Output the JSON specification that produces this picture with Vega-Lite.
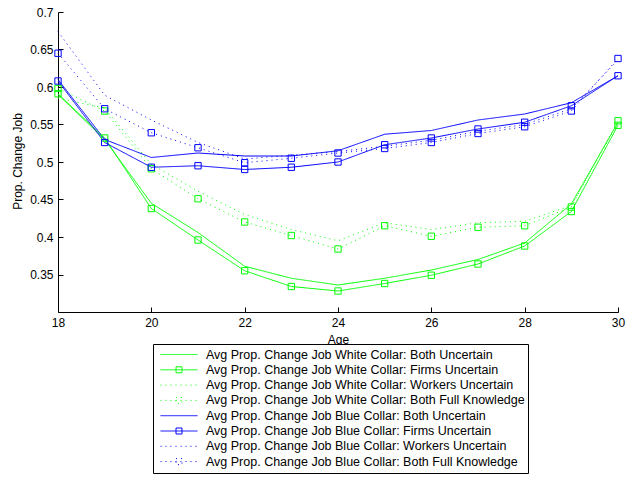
{
  "$schema": "https://vega.github.io/schema/vega-lite/v6.json",
  "width": 560,
  "height": 300,
  "autosize": {"type": "none"},
  "padding": {"left": 58, "top": 12, "right": 19, "bottom": 167},
  "background": "white",
  "config": {
    "view": {"stroke": null},
    "font": "Liberation Sans",
    "axis": {
      "domainColor": "black",
      "domainWidth": 1,
      "tickColor": "black",
      "tickWidth": 1,
      "tickSize": -5,
      "labelColor": "black",
      "titleColor": "black",
      "labelFont": "Liberation Sans",
      "titleFont": "Liberation Sans",
      "labelFontSize": 12,
      "titleFontSize": 12,
      "titleFontWeight": "normal",
      "grid": false,
      "labelFlush": false,
      "labelOverlap": false
    },
    "legend": {
      "orient": "none",
      "legendX": 95,
      "legendY": 332,
      "direction": "vertical",
      "columns": 1,
      "padding": 3,
      "strokeColor": "black",
      "fillColor": "white",
      "cornerRadius": 0,
      "clipHeight": 15,
      "rowPadding": 0.3,
      "symbolSize": 1369,
      "symbolStrokeWidth": 1,
      "symbolOffset": 4,
      "labelOffset": 8,
      "labelFont": "Liberation Sans",
      "labelFontSize": 12.5,
      "labelColor": "black",
      "labelLimit": 500
    }
  },
  "data": {
    "values": [
      {"series": "Avg Prop. Change Job White Collar: Both Uncertain", "age": 18, "value": 0.590},
      {"series": "Avg Prop. Change Job White Collar: Both Uncertain", "age": 19, "value": 0.530},
      {"series": "Avg Prop. Change Job White Collar: Both Uncertain", "age": 20, "value": 0.445},
      {"series": "Avg Prop. Change Job White Collar: Both Uncertain", "age": 21, "value": 0.406},
      {"series": "Avg Prop. Change Job White Collar: Both Uncertain", "age": 22, "value": 0.361},
      {"series": "Avg Prop. Change Job White Collar: Both Uncertain", "age": 23, "value": 0.345},
      {"series": "Avg Prop. Change Job White Collar: Both Uncertain", "age": 24, "value": 0.336},
      {"series": "Avg Prop. Change Job White Collar: Both Uncertain", "age": 25, "value": 0.345},
      {"series": "Avg Prop. Change Job White Collar: Both Uncertain", "age": 26, "value": 0.356},
      {"series": "Avg Prop. Change Job White Collar: Both Uncertain", "age": 27, "value": 0.370},
      {"series": "Avg Prop. Change Job White Collar: Both Uncertain", "age": 28, "value": 0.392},
      {"series": "Avg Prop. Change Job White Collar: Both Uncertain", "age": 29, "value": 0.444},
      {"series": "Avg Prop. Change Job White Collar: Both Uncertain", "age": 30, "value": 0.553},

      {"series": "Avg Prop. Change Job White Collar: Firms Uncertain", "age": 18, "value": 0.591},
      {"series": "Avg Prop. Change Job White Collar: Firms Uncertain", "age": 19, "value": 0.532},
      {"series": "Avg Prop. Change Job White Collar: Firms Uncertain", "age": 20, "value": 0.438},
      {"series": "Avg Prop. Change Job White Collar: Firms Uncertain", "age": 21, "value": 0.396},
      {"series": "Avg Prop. Change Job White Collar: Firms Uncertain", "age": 22, "value": 0.355},
      {"series": "Avg Prop. Change Job White Collar: Firms Uncertain", "age": 23, "value": 0.334},
      {"series": "Avg Prop. Change Job White Collar: Firms Uncertain", "age": 24, "value": 0.328},
      {"series": "Avg Prop. Change Job White Collar: Firms Uncertain", "age": 25, "value": 0.338},
      {"series": "Avg Prop. Change Job White Collar: Firms Uncertain", "age": 26, "value": 0.349},
      {"series": "Avg Prop. Change Job White Collar: Firms Uncertain", "age": 27, "value": 0.364},
      {"series": "Avg Prop. Change Job White Collar: Firms Uncertain", "age": 28, "value": 0.388},
      {"series": "Avg Prop. Change Job White Collar: Firms Uncertain", "age": 29, "value": 0.434},
      {"series": "Avg Prop. Change Job White Collar: Firms Uncertain", "age": 30, "value": 0.549},

      {"series": "Avg Prop. Change Job White Collar: Workers Uncertain", "age": 18, "value": 0.585},
      {"series": "Avg Prop. Change Job White Collar: Workers Uncertain", "age": 19, "value": 0.572},
      {"series": "Avg Prop. Change Job White Collar: Workers Uncertain", "age": 20, "value": 0.497},
      {"series": "Avg Prop. Change Job White Collar: Workers Uncertain", "age": 21, "value": 0.461},
      {"series": "Avg Prop. Change Job White Collar: Workers Uncertain", "age": 22, "value": 0.430},
      {"series": "Avg Prop. Change Job White Collar: Workers Uncertain", "age": 23, "value": 0.410},
      {"series": "Avg Prop. Change Job White Collar: Workers Uncertain", "age": 24, "value": 0.395},
      {"series": "Avg Prop. Change Job White Collar: Workers Uncertain", "age": 25, "value": 0.419},
      {"series": "Avg Prop. Change Job White Collar: Workers Uncertain", "age": 26, "value": 0.410},
      {"series": "Avg Prop. Change Job White Collar: Workers Uncertain", "age": 27, "value": 0.419},
      {"series": "Avg Prop. Change Job White Collar: Workers Uncertain", "age": 28, "value": 0.421},
      {"series": "Avg Prop. Change Job White Collar: Workers Uncertain", "age": 29, "value": 0.442},
      {"series": "Avg Prop. Change Job White Collar: Workers Uncertain", "age": 30, "value": 0.552},

      {"series": "Avg Prop. Change Job White Collar: Both Full Knowledge", "age": 18, "value": 0.598},
      {"series": "Avg Prop. Change Job White Collar: Both Full Knowledge", "age": 19, "value": 0.568},
      {"series": "Avg Prop. Change Job White Collar: Both Full Knowledge", "age": 20, "value": 0.491},
      {"series": "Avg Prop. Change Job White Collar: Both Full Knowledge", "age": 21, "value": 0.451},
      {"series": "Avg Prop. Change Job White Collar: Both Full Knowledge", "age": 22, "value": 0.420},
      {"series": "Avg Prop. Change Job White Collar: Both Full Knowledge", "age": 23, "value": 0.402},
      {"series": "Avg Prop. Change Job White Collar: Both Full Knowledge", "age": 24, "value": 0.384},
      {"series": "Avg Prop. Change Job White Collar: Both Full Knowledge", "age": 25, "value": 0.415},
      {"series": "Avg Prop. Change Job White Collar: Both Full Knowledge", "age": 26, "value": 0.401},
      {"series": "Avg Prop. Change Job White Collar: Both Full Knowledge", "age": 27, "value": 0.413},
      {"series": "Avg Prop. Change Job White Collar: Both Full Knowledge", "age": 28, "value": 0.415},
      {"series": "Avg Prop. Change Job White Collar: Both Full Knowledge", "age": 29, "value": 0.440},
      {"series": "Avg Prop. Change Job White Collar: Both Full Knowledge", "age": 30, "value": 0.555},

      {"series": "Avg Prop. Change Job Blue Collar: Both Uncertain", "age": 18, "value": 0.610},
      {"series": "Avg Prop. Change Job Blue Collar: Both Uncertain", "age": 19, "value": 0.530},
      {"series": "Avg Prop. Change Job Blue Collar: Both Uncertain", "age": 20, "value": 0.506},
      {"series": "Avg Prop. Change Job Blue Collar: Both Uncertain", "age": 21, "value": 0.512},
      {"series": "Avg Prop. Change Job Blue Collar: Both Uncertain", "age": 22, "value": 0.508},
      {"series": "Avg Prop. Change Job Blue Collar: Both Uncertain", "age": 23, "value": 0.508},
      {"series": "Avg Prop. Change Job Blue Collar: Both Uncertain", "age": 24, "value": 0.515},
      {"series": "Avg Prop. Change Job Blue Collar: Both Uncertain", "age": 25, "value": 0.537},
      {"series": "Avg Prop. Change Job Blue Collar: Both Uncertain", "age": 26, "value": 0.542},
      {"series": "Avg Prop. Change Job Blue Collar: Both Uncertain", "age": 27, "value": 0.556},
      {"series": "Avg Prop. Change Job Blue Collar: Both Uncertain", "age": 28, "value": 0.564},
      {"series": "Avg Prop. Change Job Blue Collar: Both Uncertain", "age": 29, "value": 0.579},
      {"series": "Avg Prop. Change Job Blue Collar: Both Uncertain", "age": 30, "value": 0.615},

      {"series": "Avg Prop. Change Job Blue Collar: Firms Uncertain", "age": 18, "value": 0.608},
      {"series": "Avg Prop. Change Job Blue Collar: Firms Uncertain", "age": 19, "value": 0.526},
      {"series": "Avg Prop. Change Job Blue Collar: Firms Uncertain", "age": 20, "value": 0.493},
      {"series": "Avg Prop. Change Job Blue Collar: Firms Uncertain", "age": 21, "value": 0.495},
      {"series": "Avg Prop. Change Job Blue Collar: Firms Uncertain", "age": 22, "value": 0.490},
      {"series": "Avg Prop. Change Job Blue Collar: Firms Uncertain", "age": 23, "value": 0.493},
      {"series": "Avg Prop. Change Job Blue Collar: Firms Uncertain", "age": 24, "value": 0.500},
      {"series": "Avg Prop. Change Job Blue Collar: Firms Uncertain", "age": 25, "value": 0.523},
      {"series": "Avg Prop. Change Job Blue Collar: Firms Uncertain", "age": 26, "value": 0.532},
      {"series": "Avg Prop. Change Job Blue Collar: Firms Uncertain", "age": 27, "value": 0.544},
      {"series": "Avg Prop. Change Job Blue Collar: Firms Uncertain", "age": 28, "value": 0.553},
      {"series": "Avg Prop. Change Job Blue Collar: Firms Uncertain", "age": 29, "value": 0.575},
      {"series": "Avg Prop. Change Job Blue Collar: Firms Uncertain", "age": 30, "value": 0.615},

      {"series": "Avg Prop. Change Job Blue Collar: Workers Uncertain", "age": 18, "value": 0.674},
      {"series": "Avg Prop. Change Job Blue Collar: Workers Uncertain", "age": 19, "value": 0.589},
      {"series": "Avg Prop. Change Job Blue Collar: Workers Uncertain", "age": 20, "value": 0.556},
      {"series": "Avg Prop. Change Job Blue Collar: Workers Uncertain", "age": 21, "value": 0.526},
      {"series": "Avg Prop. Change Job Blue Collar: Workers Uncertain", "age": 22, "value": 0.504},
      {"series": "Avg Prop. Change Job Blue Collar: Workers Uncertain", "age": 23, "value": 0.509},
      {"series": "Avg Prop. Change Job Blue Collar: Workers Uncertain", "age": 24, "value": 0.514},
      {"series": "Avg Prop. Change Job Blue Collar: Workers Uncertain", "age": 25, "value": 0.521},
      {"series": "Avg Prop. Change Job Blue Collar: Workers Uncertain", "age": 26, "value": 0.529},
      {"series": "Avg Prop. Change Job Blue Collar: Workers Uncertain", "age": 27, "value": 0.541},
      {"series": "Avg Prop. Change Job Blue Collar: Workers Uncertain", "age": 28, "value": 0.550},
      {"series": "Avg Prop. Change Job Blue Collar: Workers Uncertain", "age": 29, "value": 0.571},
      {"series": "Avg Prop. Change Job Blue Collar: Workers Uncertain", "age": 30, "value": 0.636},

      {"series": "Avg Prop. Change Job Blue Collar: Both Full Knowledge", "age": 18, "value": 0.645},
      {"series": "Avg Prop. Change Job Blue Collar: Both Full Knowledge", "age": 19, "value": 0.571},
      {"series": "Avg Prop. Change Job Blue Collar: Both Full Knowledge", "age": 20, "value": 0.539},
      {"series": "Avg Prop. Change Job Blue Collar: Both Full Knowledge", "age": 21, "value": 0.519},
      {"series": "Avg Prop. Change Job Blue Collar: Both Full Knowledge", "age": 22, "value": 0.499},
      {"series": "Avg Prop. Change Job Blue Collar: Both Full Knowledge", "age": 23, "value": 0.505},
      {"series": "Avg Prop. Change Job Blue Collar: Both Full Knowledge", "age": 24, "value": 0.512},
      {"series": "Avg Prop. Change Job Blue Collar: Both Full Knowledge", "age": 25, "value": 0.518},
      {"series": "Avg Prop. Change Job Blue Collar: Both Full Knowledge", "age": 26, "value": 0.526},
      {"series": "Avg Prop. Change Job Blue Collar: Both Full Knowledge", "age": 27, "value": 0.538},
      {"series": "Avg Prop. Change Job Blue Collar: Both Full Knowledge", "age": 28, "value": 0.547},
      {"series": "Avg Prop. Change Job Blue Collar: Both Full Knowledge", "age": 29, "value": 0.568},
      {"series": "Avg Prop. Change Job Blue Collar: Both Full Knowledge", "age": 30, "value": 0.638}
    ]
  },
  "encoding": {
    "x": {
      "field": "age",
      "type": "quantitative",
      "scale": {"domain": [18, 30], "nice": false, "zero": false},
      "axis": {
        "title": "Age",
        "values": [18, 20, 22, 24, 26, 28, 30],
        "format": "d",
        "labelPadding": 10,
        "titleX": 280,
        "titleY": 31,
        "titleBaseline": "alphabetic"
      }
    },
    "y": {
      "field": "value",
      "type": "quantitative",
      "scale": {"domain": [0.3, 0.7], "nice": false, "zero": false},
      "axis": {
        "title": "Prop. Change Job",
        "values": [0.35, 0.4, 0.45, 0.5, 0.55, 0.6, 0.65, 0.7],
        "format": ".2~f",
        "labelPadding": 10,
        "titleX": -41,
        "titleY": 149,
        "titleBaseline": "middle",
        "titleAlign": "center"
      }
    }
  },
  "layer": [
    {
      "mark": {"type": "line", "strokeWidth": 1},
      "encoding": {
        "color": {
          "field": "series",
          "type": "nominal",
          "scale": {
            "domain": [
              "Avg Prop. Change Job White Collar: Both Uncertain",
              "Avg Prop. Change Job White Collar: Firms Uncertain",
              "Avg Prop. Change Job White Collar: Workers Uncertain",
              "Avg Prop. Change Job White Collar: Both Full Knowledge",
              "Avg Prop. Change Job Blue Collar: Both Uncertain",
              "Avg Prop. Change Job Blue Collar: Firms Uncertain",
              "Avg Prop. Change Job Blue Collar: Workers Uncertain",
              "Avg Prop. Change Job Blue Collar: Both Full Knowledge"
            ],
            "range": ["#00ff00", "#00ff00", "#00ff00", "#00ff00", "#0000ff", "#0000ff", "#0000ff", "#0000ff"]
          },
          "legend": {
            "title": null,
            "encoding": {
              "symbols": {
                "shape": {"value": {"expr": "indexof(datum.value, 'Firms') >= 0 || indexof(datum.value, 'Full Knowledge') >= 0 ? 'M-1,0H1M-0.162,-0.162H0.162V0.162H-0.162Z' : 'M-1,0H1'"}},
                "fill": {"value": "transparent"}
              }
            }
          }
        },
        "strokeDash": {
          "field": "series",
          "type": "nominal",
          "scale": {
            "domain": [
              "Avg Prop. Change Job White Collar: Both Uncertain",
              "Avg Prop. Change Job White Collar: Firms Uncertain",
              "Avg Prop. Change Job White Collar: Workers Uncertain",
              "Avg Prop. Change Job White Collar: Both Full Knowledge",
              "Avg Prop. Change Job Blue Collar: Both Uncertain",
              "Avg Prop. Change Job Blue Collar: Firms Uncertain",
              "Avg Prop. Change Job Blue Collar: Workers Uncertain",
              "Avg Prop. Change Job Blue Collar: Both Full Knowledge"
            ],
            "range": [[1, 0], [1, 0], [1, 4], [1, 4], [1, 0], [1, 0], [1, 4], [1, 4]]
          },
          "legend": {"title": null}
        }
      }
    },
    {
      "transform": [
        {
          "filter": {
            "field": "series",
            "oneOf": [
              "Avg Prop. Change Job White Collar: Firms Uncertain",
              "Avg Prop. Change Job White Collar: Both Full Knowledge",
              "Avg Prop. Change Job Blue Collar: Firms Uncertain",
              "Avg Prop. Change Job Blue Collar: Both Full Knowledge"
            ]
          }
        }
      ],
      "mark": {"type": "point", "shape": "square", "filled": false, "size": 40, "strokeWidth": 1, "opacity": 1},
      "encoding": {
        "color": {"field": "series", "type": "nominal", "legend": null}
      }
    }
  ]
}
